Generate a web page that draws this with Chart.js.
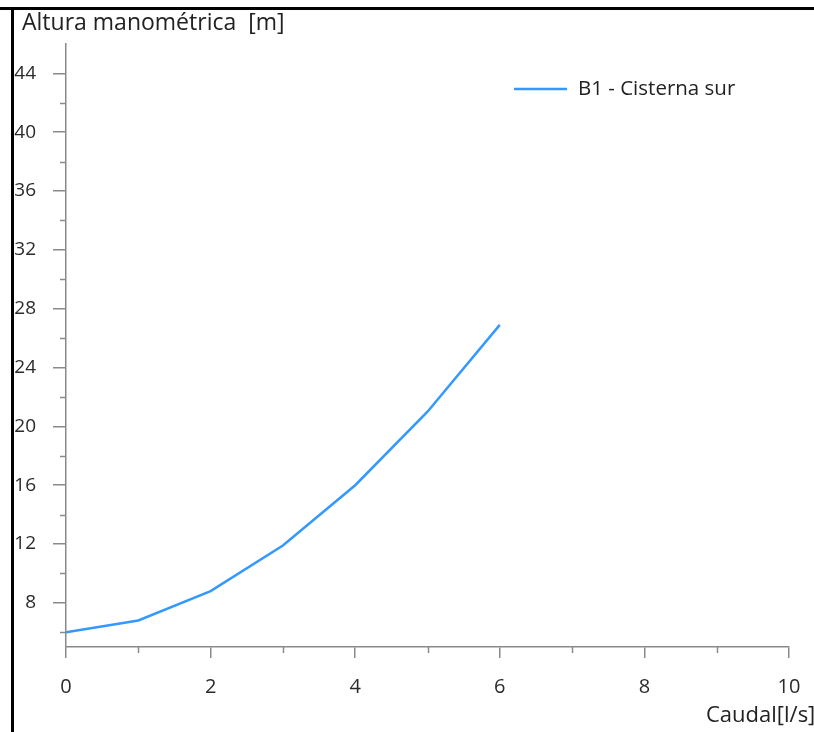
<!DOCTYPE html>
<html>
<head>
<meta charset="utf-8">
<title>Curva B1 - Cisterna sur</title>
<script src="https://cdn.jsdelivr.net/npm/chart.js@4.4.1/dist/chart.umd.min.js"></script>
<style>
  html, body { margin: 0; padding: 0; background: #fff; }
  #wrap { width: 814px; height: 732px; position: relative; }
</style>
</head>
<body>
<div id="wrap"><canvas id="curve"></canvas></div>
<script>
// data
const flowValues = [0, 1, 2, 3, 4, 5, 6];
const headValues = [6.0, 6.8, 8.8, 11.9, 16.0, 21.0, 26.9];
const seriesLabel = 'B1 - Cisterna sur';
const xTickLabels = [0, 2, 4, 6, 8, 10];
const xMinorTicks = [1, 3, 5, 7, 9];
const yTickLabels = [8, 12, 16, 20, 24, 28, 32, 36, 40, 44];
const yMinorTicks = [6, 10, 14, 18, 22, 26, 30, 34, 38, 42];
const yTitle = 'Altura manométrica  [m]';
const xTitle = 'Caudal[l/s]';

const axisGray = '#8a8a8a';
const textColor = '#2b2b2b';
const fontFamily = "'Open Sans', 'Noto Sans', sans-serif";

// minor ticks, titles, legend and the frame
const extrasPlugin = {
    id: 'extras',
    afterDraw(chart) {
        const ctx = chart.ctx;
        const xs = chart.scales.x;
        const ys = chart.scales.y;
        const area = chart.chartArea;
        ctx.save();

        ctx.strokeStyle = axisGray;
        ctx.lineWidth = 1.5;
        xMinorTicks.forEach(v => {
            const px = Math.round(xs.getPixelForValue(v)) + 0.5;
            ctx.beginPath();
            ctx.moveTo(px, area.bottom);
            ctx.lineTo(px, area.bottom + 6);
            ctx.stroke();
        });
        yMinorTicks.forEach(v => {
            const py = Math.round(ys.getPixelForValue(v)) + 0.5;
            ctx.beginPath();
            ctx.moveTo(area.left - 6, py);
            ctx.lineTo(area.left, py);
            ctx.stroke();
        });

        // legend inside plot
        const ds = chart.data.datasets[0];
        ctx.strokeStyle = ds.borderColor;
        ctx.lineWidth = ds.borderWidth;
        ctx.beginPath();
        ctx.moveTo(514, 89);
        ctx.lineTo(567, 89);
        ctx.stroke();
        ctx.fillStyle = '#222';
        ctx.font = '20.5px ' + fontFamily;
        ctx.textBaseline = 'middle';
        ctx.textAlign = 'left';
        ctx.fillText(ds.label, 578, 89);

        // axis names
        ctx.font = '23px ' + fontFamily;
        ctx.fillText(yTitle, 22, 23);
        ctx.font = '22px ' + fontFamily;
        ctx.fillText(xTitle, 706, 716);

        // frame (top and left only, like the cropped screenshot)
        ctx.fillStyle = '#fff';
        ctx.fillRect(0, 0, 11, chart.height);
        ctx.fillRect(0, 0, chart.width, 7);
        ctx.fillStyle = '#000';
        ctx.fillRect(0, 7, chart.width, 3);
        ctx.fillRect(11, 7, 3, chart.height - 7);
        ctx.restore();
    }
};

const ctx = document.getElementById('curve').getContext('2d');
new Chart(ctx, {
    type: 'line',
    data: {
        datasets: [{
            label: seriesLabel,
            data: flowValues.map((q, i) => ({ x: q, y: headValues[i] })),
            borderColor: '#3399ff',
            borderWidth: 2.5,
            pointRadius: 0,
            tension: 0,
            fill: false
        }]
    },
    options: {
        responsive: true,
        maintainAspectRatio: false,
        animation: false,
        layout: { padding: { left: 11, top: 44, right: 25, bottom: 0 } },
        plugins: {
            legend: { display: false },
            tooltip: { enabled: false }
        },
        scales: {
            x: {
                type: 'linear',
                min: 0,
                max: 10,
                afterBuildTicks: scale => { scale.ticks = xTickLabels.map(v => ({ value: v })); },
                afterFit: scale => {
                    scale.height = 85;
                    scale.paddingLeft = 0;
                    scale.paddingRight = 0;
                },
                grid: { drawOnChartArea: false, drawTicks: true, tickLength: 11, color: axisGray, lineWidth: 1.5 },
                border: { color: axisGray, width: 1.5 },
                ticks: {
                    padding: 17,
                    maxRotation: 0,
                    color: textColor,
                    font: { family: fontFamily, size: 20 }
                }
            },
            y: {
                type: 'linear',
                min: 5,
                max: 46,
                afterBuildTicks: scale => { scale.ticks = yTickLabels.map(v => ({ value: v })); },
                afterFit: scale => {
                    scale.width = 55;
                    scale.paddingTop = 0;
                    scale.paddingBottom = 0;
                },
                grid: { drawOnChartArea: false, drawTicks: true, tickLength: 13, color: axisGray, lineWidth: 1.5 },
                border: { color: axisGray, width: 1.5 },
                ticks: {
                    padding: 17,
                    color: textColor,
                    font: { family: fontFamily, size: 19 }
                }
            }
        }
    },
    plugins: [extrasPlugin]
});
</script>
</body>
</html>
